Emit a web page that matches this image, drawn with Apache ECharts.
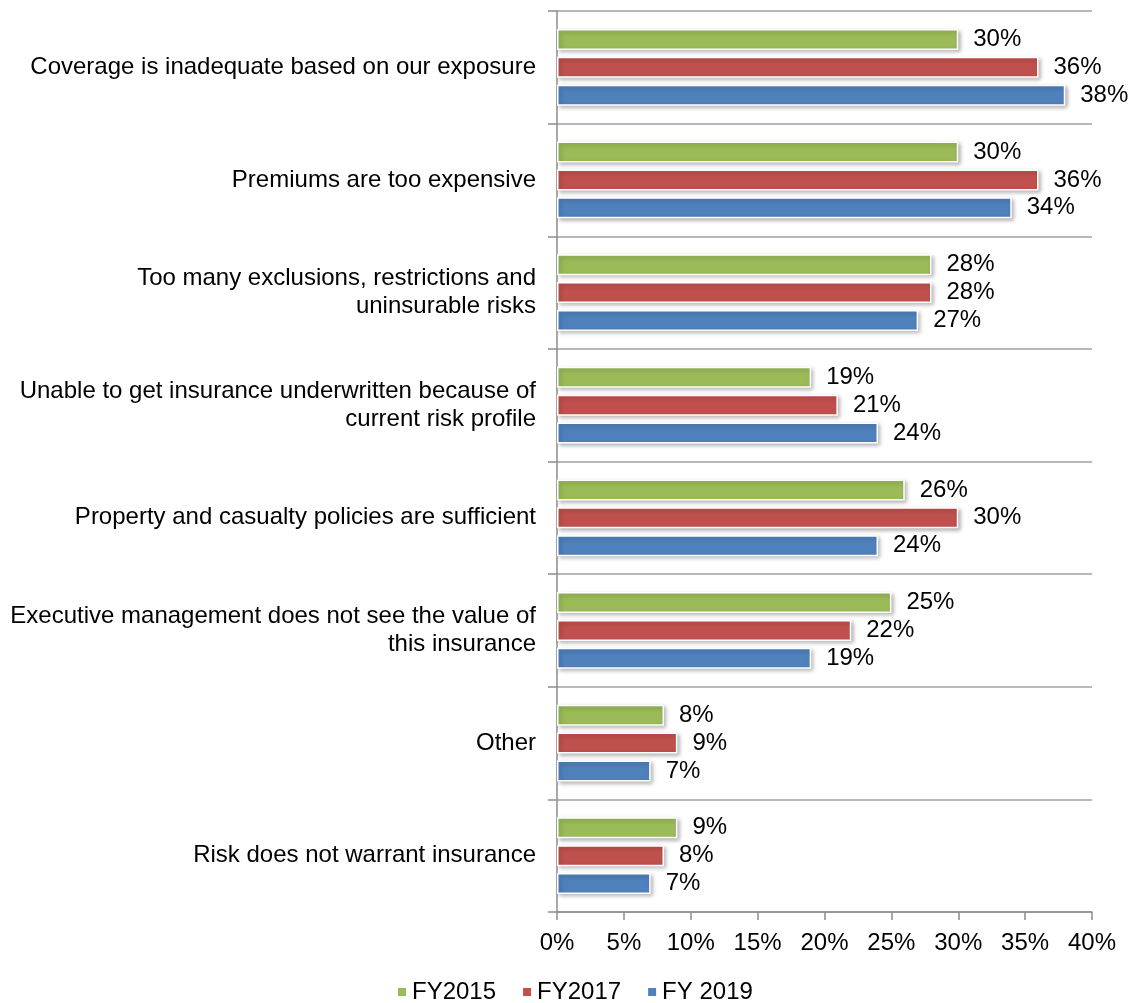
<!DOCTYPE html>
<html>
<head>
<meta charset="utf-8">
<script src="https://cdn.jsdelivr.net/npm/echarts@6/dist/echarts.min.js"></script>
<style>
  html, body { margin: 0; padding: 0; background: #fff; }
  #chart { width: 1136px; height: 1003px; }
</style>
</head>
<body>
<div id="chart"></div>
<script>
// Reasons cited, top to bottom
const categories = [
  'Coverage is inadequate based on our exposure',
  'Premiums are too expensive',
  'Too many exclusions, restrictions and\nuninsurable risks',
  'Unable to get insurance underwritten because of\ncurrent risk profile',
  'Property and casualty policies are sufficient',
  'Executive management does not see the value of\nthis insurance',
  'Other',
  'Risk does not warrant insurance'
];

// Share of respondents (%) per survey year
const fy2015 = [30, 30, 28, 19, 26, 25, 8, 9];
const fy2017 = [36, 36, 28, 21, 30, 22, 9, 8];
const fy2019 = [38, 34, 27, 24, 24, 19, 7, 7];

const xTicks = { min: 0, max: 40, interval: 5 };

const seriesDefs = [
  { name: 'FY2015', data: fy2015, color: '#9BBB59' },
  { name: 'FY2017', data: fy2017, color: '#C0504D' },
  { name: 'FY 2019', data: fy2019, color: '#4F81BD' }
];

const font = 'Liberation Sans, Arial, sans-serif';
const fs = 24;
const chart = echarts.init(document.getElementById('chart'));

chart.setOption({
  animation: false,
  textStyle: { fontFamily: font },
  grid: { left: 557, right: 44, top: 11, bottom: 91, containLabel: false },
  legend: {
    top: 975,
    left: 391,
    itemWidth: 10,
    itemHeight: 10,
    itemGap: 25,
    icon: 'rect',
    textStyle: { fontSize: fs, color: '#000', fontFamily: font },
    data: seriesDefs.map(s => s.name)
  },
  xAxis: {
    type: 'value',
    min: xTicks.min,
    max: xTicks.max,
    interval: xTicks.interval,
    axisLine: { show: true, lineStyle: { color: '#8c8c8c', width: 1.5 } },
    axisTick: { show: true, length: 8, lineStyle: { color: '#8c8c8c', width: 1.5 } },
    axisLabel: { formatter: '{value}%', fontSize: fs, color: '#000', margin: 19, fontFamily: font },
    splitLine: { show: false }
  },
  yAxis: {
    type: 'category',
    data: categories,
    inverse: true,
    axisLine: { show: true, lineStyle: { color: '#8c8c8c', width: 1.5 } },
    axisTick: { show: true, length: 9, lineStyle: { color: '#8c8c8c', width: 1.5 } },
    splitLine: { show: true, lineStyle: { color: '#a0a0a0', width: 1.5 } },
    axisLabel: {
      fontSize: fs,
      color: '#000',
      margin: 21,
      lineHeight: 28,
      align: 'right',
      fontFamily: font
    }
  },
  series: seriesDefs.map(s => ({
    name: s.name,
    type: 'bar',
    data: s.data,
    barWidth: 21,
    barGap: '33%',
    itemStyle: {
      color: s.color,
      borderColor: '#ffffff',
      borderWidth: 1.5,
      shadowColor: 'rgba(0,0,0,0.28)',
      shadowBlur: 4,
      shadowOffsetX: 2,
      shadowOffsetY: 2
    },
    label: {
      show: true,
      position: 'right',
      distance: 15,
      formatter: '{c}%',
      fontSize: fs,
      color: '#000',
      fontFamily: font
    }
  }))
});
</script>
</body>
</html>
